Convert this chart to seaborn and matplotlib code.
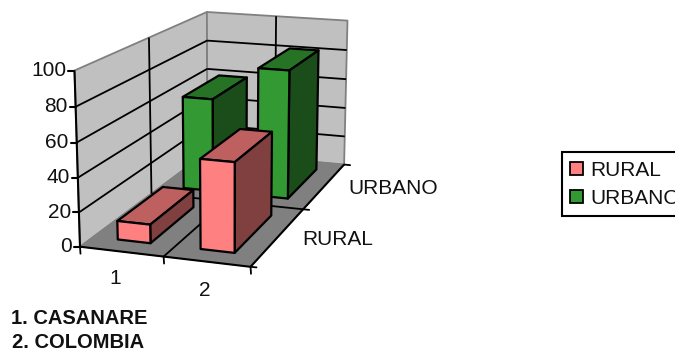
import numpy as np
import pandas as pd
import matplotlib
matplotlib.use("Agg")
import matplotlib.pyplot as plt
from matplotlib.patches import Polygon, Patch
import seaborn as sns

categories = ["1", "2"]
series = ["RURAL", "URBANO"]
rural = [11, 52]
urbano = [60, 82]
z_ticks = [0, 20, 40, 60, 80, 100]
notes = ["1. CASANARE", "2. COLOMBIA"]

colors = {"RURAL": ("#FF8080", "#BF6060", "#804040"),
          "URBANO": ("#339933", "#267326", "#1A4D1A")}

df = pd.DataFrame({"category": categories * 2,
                   "series": ["RURAL"] * 2 + ["URBANO"] * 2,
                   "value": rural + urbano})

sns.set_theme(style="white")
plt.rcParams["font.family"] = ["Liberation Sans", "DejaVu Sans"]

fig = plt.figure(figsize=(6.75, 3.51), dpi=100)
ax = fig.add_axes([0, 0, 1, 1])
ax.set_xlim(0, 675)
ax.set_ylim(351, 0)
ax.axis("off")

# camera calibration of the 3D box: (category axis, series axis, value) -> figure pixels
calib = [((0, 0, 0), (80, 247)), ((0, 0, 100), (75, 70)),
         ((0, 2, 0), (208, 152)), ((0, 2, 100), (206, 12)),
         ((2, 2, 0), (344, 164)), ((2, 2, 100), (348, 21)),
         ((2, 0, 0), (250, 267))]
A, b = [], []
for (u, v, w), (px, py) in calib:
    A.append([u, v, w, 1, 0, 0, 0, 0, -px * u, -px * v, -px * w])
    A.append([0, 0, 0, 0, u, v, w, 1, -py * u, -py * v, -py * w])
    b += [px, py]
P = np.append(np.linalg.lstsq(np.array(A, float), np.array(b, float), rcond=None)[0], 1).reshape(3, 4)


def proj(u, v, w):
    h = P @ np.array([u, v, w, 1.0])
    return h[0] / h[2], h[1] / h[2]


def face(pts, fc, ec="black", lw=1.1, z=1):
    ax.add_patch(Polygon([proj(*p) for p in pts], closed=True, facecolor=fc,
                         edgecolor=ec, linewidth=lw, joinstyle="round", zorder=z))


def line(p, q, color="black", lw=1.3, z=2):
    a, c = proj(*p), proj(*q)
    ax.plot([a[0], c[0]], [a[1], c[1]], color=color, lw=lw, zorder=z, solid_capstyle="butt")


zmax = max(z_ticks)
# walls and floor
face([(0, 0, 0), (0, 2, 0), (0, 2, zmax), (0, 0, zmax)], "#C0C0C0", "#808080", 1.3)
face([(0, 2, 0), (2, 2, 0), (2, 2, zmax), (0, 2, zmax)], "#C0C0C0", "#808080", 1.3)
face([(0, 0, 0), (2, 0, 0), (2, 2, 0), (0, 2, 0)], "#808080", "#808080", 0.8)

# gridlines
for t in z_ticks[1:-1]:
    line((0, 0, t), (0, 2, t))
    line((0, 2, t), (2, 2, t))
line((0, 1, 0), (0, 1, zmax))
line((1, 2, 0), (1, 2, zmax))
line((1, 0, 0), (1, 2, 0))
line((0, 1, 0), (2, 1, 0))
line((0, 0, 0), (2, 0, 0), lw=1.5)
line((2, 0, 0), (2, 2, 0), lw=1.5)
line((0, 0, 0), (0, 0, zmax), lw=1.5)

# axis ticks and labels
for t in z_ticks:
    x, y = proj(0, 0, t)
    ax.plot([x - 6, x], [y, y], color="black", lw=1.5, zorder=2)
    ax.text(x - 8, y, str(t), ha="right", va="center", fontsize=15, color="#111111")
for u in [0, 1, 2]:
    x, y = proj(u, 0, 0)
    ax.plot([x, x + 0.5], [y, y + 7], color="black", lw=1.3, zorder=2)
for v in [0, 1, 2]:
    x, y = proj(2, v, 0)
    ax.plot([x, x + 6], [y, y + 0.6], color="black", lw=1.3, zorder=2)
for i, c in enumerate(categories):
    x, y = proj(i + 0.5, 0, 0)
    ax.text(x - 6 + 4 * i, y + 27 + 2 * i, c, ha="center", va="center", fontsize=15, color="#111111")
for j, s in enumerate(series):
    x, y = proj(2, j + 0.5, 0)
    ax.text(x + 24, y + 3, s, ha="left", va="center", fontsize=15, color="#111111")

# bars, back row first so nearer bars overlap them
half_u = 0.2
half_v = 0.33
zo = 3
for j, s in reversed(list(enumerate(series))):
    front, top, side = colors[s]
    sub = df[df["series"] == s].reset_index(drop=True)
    for i, row in sub.iterrows():
        u0, u1 = i + 0.5 - half_u, i + 0.5 + half_u
        v0, v1 = j + 0.5 - half_v, j + 0.5 + half_v
        h = row["value"]
        face([(u0, v0, h), (u1, v0, h), (u1, v1, h), (u0, v1, h)], top, lw=1.6, z=zo)
        face([(u1, v0, 0), (u1, v1, 0), (u1, v1, h), (u1, v0, h)], side, lw=1.6, z=zo)
        face([(u0, v0, 0), (u1, v0, 0), (u1, v0, h), (u0, v0, h)], front, lw=1.6, z=zo)
        zo += 1

# legend, running off the right edge as in the original
handles = [Patch(facecolor=colors[s][0], edgecolor="black", linewidth=1.3, label=s) for s in series]
leg = ax.legend(handles=handles, loc="upper left", bbox_to_anchor=(562 / 675, 1 - 152.5 / 351),
                borderaxespad=0, fontsize=15, fancybox=False, framealpha=1, edgecolor="black",
                handlelength=0.6, handleheight=0.6, handletextpad=0.35, labelspacing=0.42,
                borderpad=0.4, labelcolor="#111111")
leg.get_frame().set_linewidth(1.5)
leg.set_zorder(20)

for (x, y), note in zip([(11, 318), (12, 343)], notes):
    ax.text(x, y, note, ha="left", va="center", fontsize=14.5, fontweight="bold", color="#111111")

fig.savefig("out.png", dpi=100)
